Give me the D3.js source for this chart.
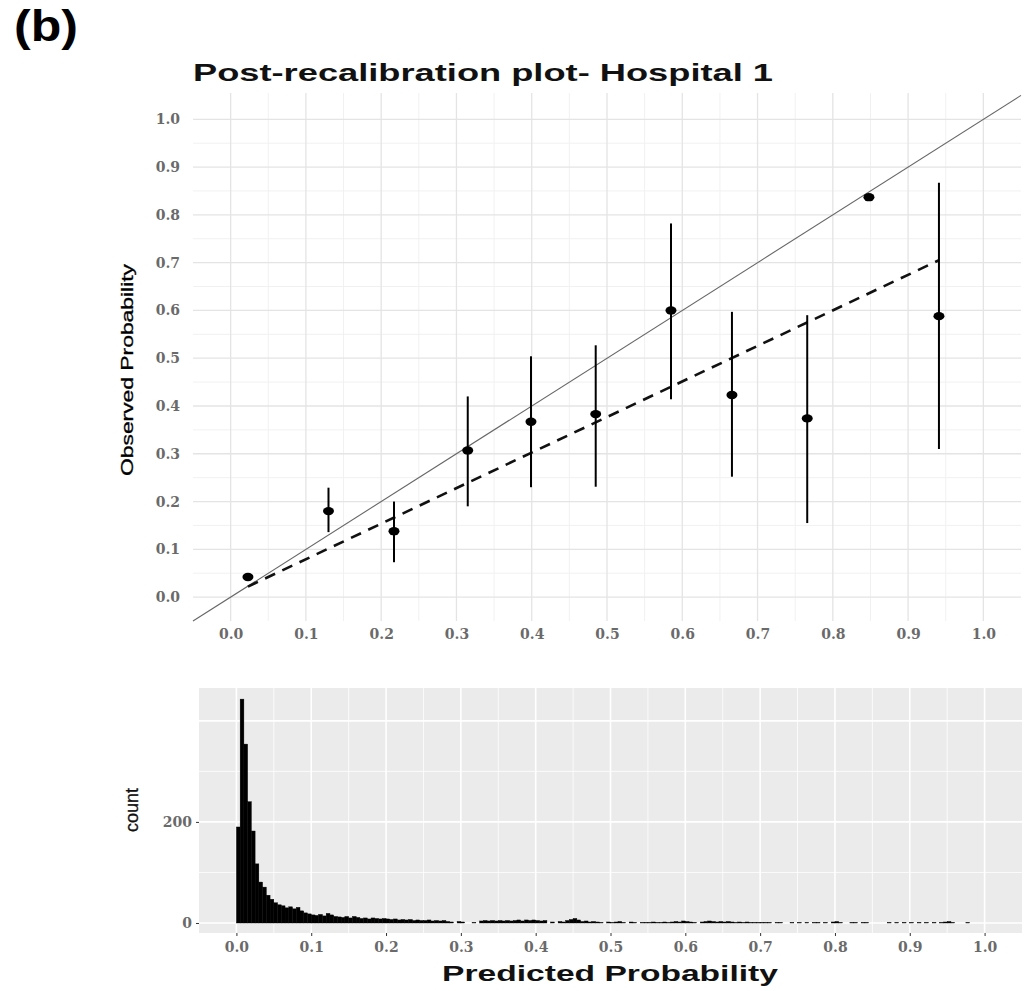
<!DOCTYPE html>
<html><head><meta charset="utf-8">
<script src="https://cdn.jsdelivr.net/npm/d3@7"></script>
<style>body{margin:0;background:#fff}svg{display:block}</style>
</head><body><svg id="c" width="1025" height="991"></svg>
<script>
// ---------- data ----------
const predicted = [0.023, 0.130, 0.217, 0.315, 0.399, 0.485, 0.585, 0.666, 0.766, 0.848, 0.941];
const observed  = [0.042, 0.180, 0.138, 0.307, 0.367, 0.383, 0.600, 0.423, 0.374, 0.837, 0.588];
const ciLower   = [0.034, 0.136, 0.073, 0.190, 0.230, 0.231, 0.414, 0.252, 0.155, 0.832, 0.310];
const ciUpper   = [0.050, 0.229, 0.200, 0.420, 0.504, 0.527, 0.782, 0.597, 0.590, 0.842, 0.867];
const fitX = [0.023, 0.941];
const fitY = [0.022, 0.705];
const probTicks = [0, 0.1, 0.2, 0.3, 0.4, 0.5, 0.6, 0.7, 0.8, 0.9, 1.0];
const probTickLabels = ["0.0","0.1","0.2","0.3","0.4","0.5","0.6","0.7","0.8","0.9","1.0"];
const binWidth = 0.005;
const histCounts = [
190,443,354,240,182,117,81,71,55,47,
40,36,34,30,32,28,31,24,20,18,
16,15,17,14,19,16,13,12,11,13,
10,13,11,9,10,8,10,9,8,9,
8,7,8,6,7,6,7,5,6,5,
5,6,4,5,4,5,3,2,0,3,
2,0,0,1,0,4,5,4,5,4,
5,4,5,4,5,6,4,6,5,6,
5,4,5,0,2,0,3,2,5,7,
9,6,3,4,2,3,2,1,0,2,
1,2,3,1,0,2,1,0,1,1,
1,2,1,1,2,1,2,3,2,4,
3,2,1,0,2,3,4,3,2,3,
2,3,2,1,2,1,2,1,1,1,
1,1,1,0,1,1,0,0,1,0,
1,0,1,0,1,1,0,1,0,2,
3,1,0,0,1,1,0,1,1,0,
0,0,0,0,1,0,1,0,1,0,
1,0,1,0,1,0,1,0,1,2,
3,1,0,0,0,1];
const countTicks = [0, 200];
const countTickLabels = ["0", "200"];
const countGridMajor = [0, 200, 400];
const countGridMinor = [100, 300];

// ---------- setup ----------
const svg = d3.select("#c");
const tickFont = "'DejaVu Serif', serif";
const sans = "'Liberation Sans', Arial, sans-serif";

svg.append("text").attr("x", 14).attr("y", 41)
  .attr("font-family", sans).attr("font-weight", "bold").attr("font-size", 44)
  .attr("textLength", 64).attr("lengthAdjust", "spacingAndGlyphs")
  .attr("fill", "#000").text("(b)");

// ---------- top panel ----------
const x = d3.scaleLinear().domain([-0.05, 1.05]).range([193, 1021]);
const y = d3.scaleLinear().domain([-0.05, 1.055]).range([621, 93]);
const topG = svg.append("g");

const minor = d3.range(0.05, 1.0, 0.1);
topG.append("g").selectAll("line").data(minor).join("line")
  .attr("x1", d => x(d)).attr("x2", d => x(d)).attr("y1", 93).attr("y2", 621)
  .attr("stroke", "#f1f1f1").attr("stroke-width", 1);
topG.append("g").selectAll("line").data(minor).join("line")
  .attr("y1", d => y(d)).attr("y2", d => y(d)).attr("x1", 193).attr("x2", 1021)
  .attr("stroke", "#f1f1f1").attr("stroke-width", 1);
topG.append("g").selectAll("line").data(probTicks).join("line")
  .attr("x1", d => x(d)).attr("x2", d => x(d)).attr("y1", 93).attr("y2", 621)
  .attr("stroke", "#e4e4e4").attr("stroke-width", 1.3);
topG.append("g").selectAll("line").data(probTicks).join("line")
  .attr("y1", d => y(d)).attr("y2", d => y(d)).attr("x1", 193).attr("x2", 1021)
  .attr("stroke", "#e4e4e4").attr("stroke-width", 1.3);

// axes (labels only)
const xAxisTop = d3.axisBottom(x).tickValues(probTicks).tickFormat((d, i) => probTickLabels[i]).tickSize(0).tickPadding(8);
const gxt = topG.append("g").attr("transform", "translate(0,621)").call(xAxisTop);
const yAxisTop = d3.axisLeft(y).tickValues(probTicks).tickFormat((d, i) => probTickLabels[i]).tickSize(0).tickPadding(13);
const gyt = topG.append("g").attr("transform", "translate(193,0)").call(yAxisTop);
[gxt, gyt].forEach(g => {
  g.select(".domain").remove();
  g.selectAll("text").attr("font-family", tickFont).attr("font-weight", "bold")
    .attr("font-size", 14).attr("fill", "#6a6a6a");
});

// diagonal reference line y = x
topG.append("line")
  .attr("x1", x(-0.05)).attr("y1", y(-0.05)).attr("x2", x(1.05)).attr("y2", y(1.05))
  .attr("stroke", "#666").attr("stroke-width", 1.1);

// dashed fitted line
topG.append("path")
  .attr("d", d3.line().x(d => x(d[0])).y(d => y(d[1]))(fitX.map((v, i) => [v, fitY[i]])))
  .attr("fill", "none").attr("stroke", "#111").attr("stroke-width", 2.6)
  .attr("stroke-dasharray", "11,8");

// error bars
topG.append("g").selectAll("line").data(predicted).join("line")
  .attr("x1", d => x(d)).attr("x2", d => x(d))
  .attr("y1", (d, i) => y(ciLower[i])).attr("y2", (d, i) => y(ciUpper[i]))
  .attr("stroke", "#000").attr("stroke-width", 2);

// points
topG.append("g").selectAll("ellipse").data(predicted).join("ellipse")
  .attr("cx", d => x(d)).attr("cy", (d, i) => y(observed[i]))
  .attr("rx", 5.5).attr("ry", 4.2).attr("fill", "#000");

// title
svg.append("text").attr("x", 193).attr("y", 81)
  .attr("font-family", sans).attr("font-weight", "bold").attr("font-size", 24)
  .attr("textLength", 580).attr("lengthAdjust", "spacingAndGlyphs")
  .attr("fill", "#111").text("Post-recalibration plot- Hospital 1");

// y-axis title
svg.append("text").attr("transform", "translate(133,370) rotate(-90)")
  .attr("text-anchor", "middle").attr("font-family", sans).attr("font-size", 16)
  .attr("textLength", 212).attr("lengthAdjust", "spacingAndGlyphs")
  .attr("fill", "#000").attr("stroke", "#000").attr("stroke-width", 0.3)
  .text("Observed Probability");

// ---------- histogram panel ----------
const hx = d3.scaleLinear().domain([-0.05, 1.05]).range([199, 1022]);
const hy = d3.scaleLinear().domain([-19.8, 465]).range([933, 688]);
const hist = svg.append("g");
hist.append("rect").attr("x", 199).attr("y", 688).attr("width", 823).attr("height", 245).attr("fill", "#ebebeb");

hist.append("g").selectAll("line").data(minor).join("line")
  .attr("x1", d => hx(d)).attr("x2", d => hx(d)).attr("y1", 688).attr("y2", 933)
  .attr("stroke", "#fff").attr("stroke-width", 0.8);
hist.append("g").selectAll("line").data(countGridMinor).join("line")
  .attr("y1", d => hy(d)).attr("y2", d => hy(d)).attr("x1", 199).attr("x2", 1022)
  .attr("stroke", "#fff").attr("stroke-width", 0.8);
hist.append("g").selectAll("line").data(probTicks).join("line")
  .attr("x1", d => hx(d)).attr("x2", d => hx(d)).attr("y1", 688).attr("y2", 933)
  .attr("stroke", "#fff").attr("stroke-width", 1.6);
hist.append("g").selectAll("line").data(countGridMajor).join("line")
  .attr("y1", d => hy(d)).attr("y2", d => hy(d)).attr("x1", 199).attr("x2", 1022)
  .attr("stroke", "#fff").attr("stroke-width", 1.6);

const bins = histCounts.map((c, i) => ({ x0: i * binWidth, x1: (i + 1) * binWidth, count: c }))
  .filter(b => b.count > 0);
hist.append("g").selectAll("rect").data(bins).join("rect")
  .attr("x", b => hx(b.x0))
  .attr("width", b => hx(b.x1) - hx(b.x0))
  .attr("y", b => hy(b.count)).attr("height", b => hy(0) - hy(b.count))
  .attr("fill", "#000").attr("stroke", "#000").attr("stroke-width", 0.4);

const gxh = hist.append("g").attr("transform", "translate(0,933)")
  .call(d3.axisBottom(hx).tickValues(probTicks).tickFormat((d, i) => probTickLabels[i]).tickSize(3).tickPadding(6));
const gyh = hist.append("g").attr("transform", "translate(199,0)")
  .call(d3.axisLeft(hy).tickValues(countTicks).tickFormat((d, i) => countTickLabels[i]).tickSize(3).tickPadding(4));
[gxh, gyh].forEach(g => {
  g.select(".domain").remove();
  g.selectAll("line").attr("stroke", "#333");
  g.selectAll("text").attr("font-family", tickFont).attr("font-weight", "bold")
    .attr("font-size", 14).attr("fill", "#6a6a6a");
});

svg.append("text").attr("transform", "translate(138,810) rotate(-90)")
  .attr("text-anchor", "middle").attr("font-family", sans).attr("font-size", 18)
  .attr("fill", "#111").attr("stroke", "#111").attr("stroke-width", 0.3).text("count");

svg.append("text").attr("x", 610).attr("y", 981).attr("text-anchor", "middle")
  .attr("font-family", sans).attr("font-weight", "bold").attr("font-size", 22)
  .attr("textLength", 336).attr("lengthAdjust", "spacingAndGlyphs")
  .attr("fill", "#111").text("Predicted Probability");
</script></body></html>
